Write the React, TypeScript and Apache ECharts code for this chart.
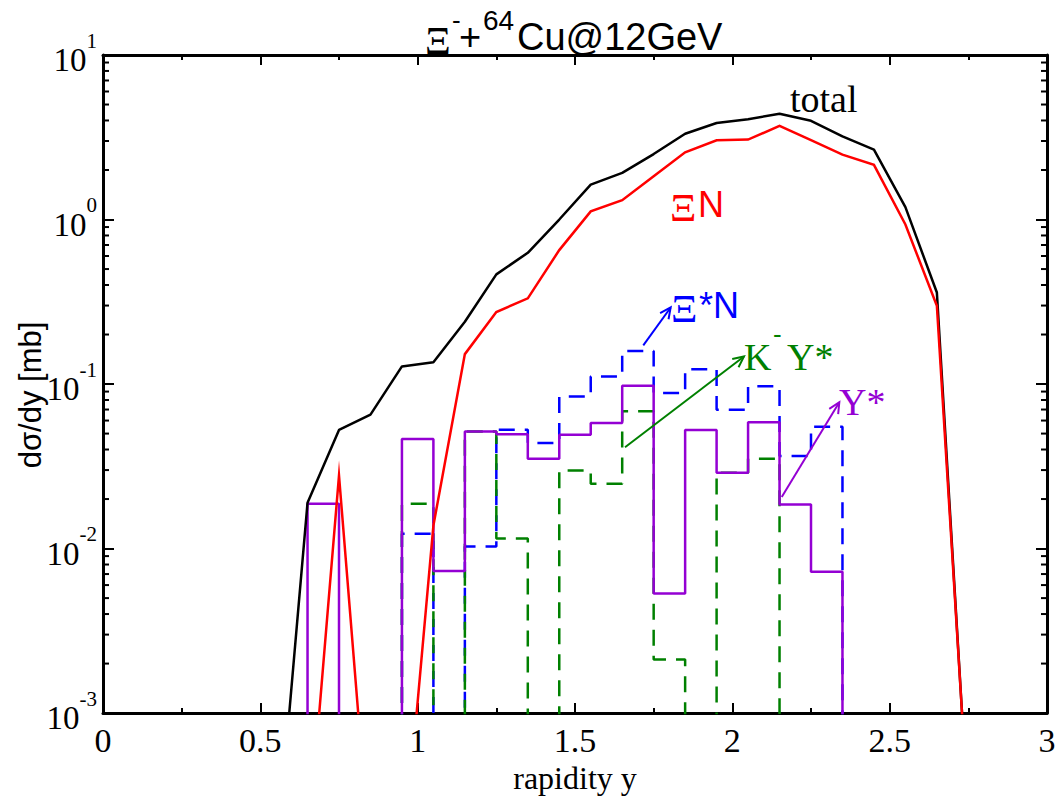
import React, { useEffect, useRef } from "react";
import * as echarts from "echarts";

// ---------- data ----------
// smooth curves, sampled at bin centres (values below 1e-3 are off-scale)
const rapidity = [0.55, 0.65, 0.75, 0.85, 0.95, 1.05, 1.15, 1.25, 1.35, 1.45, 1.55, 1.65, 1.75, 1.85, 1.95, 2.05, 2.15, 2.25, 2.35, 2.45, 2.55, 2.65, 2.75];
const totalValues = [1.2e-4, 0.019, 0.0526, 0.0652, 0.128, 0.1355, 0.239, 0.464, 0.628, 1.0, 1.63, 1.92, 2.5, 3.32, 3.86, 4.07, 4.39, 3.98, 3.2, 2.66, 1.19, 0.36, 2.3e-4];
const xiNValues = [1e-5, 1.4e-4, 0.0278, 1.2e-4, 1.0e-4, 0.0138, 0.152, 0.274, 0.332, 0.652, 1.12, 1.31, 1.83, 2.56, 3.03, 3.06, 3.71, 3.04, 2.48, 2.15, 0.933, 0.299, 2.4e-4];

// histograms (bin centres, width 0.1); null = below 1e-3
const binCenters = [0.7, 0.8, 0.9, 1.0, 1.1, 1.2, 1.3, 1.4, 1.5, 1.6, 1.7, 1.8, 1.9, 2.0, 2.1, 2.2, 2.3];
const binWidth = 0.1;
const xiStarNValues = [null, null, null, 0.0123, null, 0.0103, 0.0528, 0.0438, 0.0841, 0.111, 0.159, 0.0881, 0.123, 0.0698, 0.0969, 0.0365, 0.0551];
const kYStarValues = [null, null, null, 0.0187, null, 0.0514, 0.0115, null, 0.0298, 0.0248, 0.0683, 0.00212, null, 0.0289, 0.0351, null, null];
const yStarValues = [0.0187, null, null, 0.0464, 0.0073, 0.0514, 0.0495, 0.0351, 0.0491, 0.058, 0.0977, 0.00534, 0.0526, 0.0289, 0.0586, 0.0185, 0.00723];

// annotation arrows [x1, y1, x2, y2] in data units
const arrowXiStarN = [1.717, 0.172, 1.804, 0.292];
const arrowKYStar = [1.659, 0.0413, 2.037, 0.147];
const arrowYStar = [2.157, 0.0206, 2.34, 0.0775];

const xTickInterval = 0.5;
const yMin = 1e-3;
const yMax = 10;

// ---------- helpers ----------
const FLOOR = 1e-6;
const SERIF = '"Liberation Serif", "Times New Roman", serif';
const SANS = '"Liberation Sans", Arial, sans-serif';

function stepPoints(centers: number[], values: (number | null)[], width: number) {
  const pts: number[][] = [];
  centers.forEach((c, i) => {
    const v = values[i] == null ? FLOOR : (values[i] as number);
    const a = +(c - width / 2).toFixed(4);
    const b = +(c + width / 2).toFixed(4);
    if (i === 0) pts.push([a, FLOOR]);
    pts.push([a, v], [b, v]);
    if (i === centers.length - 1) pts.push([b, FLOOR]);
  });
  return pts;
}

function arrowSeries(arrow: number[], color: string) {
  return {
    type: "custom",
    silent: true,
    clip: false,
    z: 5,
    encode: { x: [0, 2], y: [1, 3] },
    data: [arrow],
    renderItem: (_p: any, api: any) => {
      const p1 = api.coord([api.value(0), api.value(1)]);
      const p2 = api.coord([api.value(2), api.value(3)]);
      const ang = Math.atan2(p2[1] - p1[1], p2[0] - p1[0]);
      const L = 12;
      const A = Math.PI / 7;
      const h1 = [p2[0] - L * Math.cos(ang - A), p2[1] - L * Math.sin(ang - A)];
      const h2 = [p2[0] - L * Math.cos(ang + A), p2[1] - L * Math.sin(ang + A)];
      return {
        type: "group",
        children: [
          { type: "line", shape: { x1: p1[0], y1: p1[1], x2: p2[0], y2: p2[1] }, style: { stroke: color, lineWidth: 2 } },
          { type: "polyline", shape: { points: [h1, p2, h2] }, style: { stroke: color, lineWidth: 2, fill: null } },
        ],
      };
    },
  };
}

function txt(text: string, x: number, baseline: number, size: number, family: string, color: string) {
  return {
    type: "text",
    x,
    y: baseline - 0.34 * size,
    silent: true,
    z: 10,
    style: {
      text,
      fill: color,
      font: `${size}px ${family}`,
      textAlign: "left",
      textVerticalAlign: "middle",
      align: "left",
      verticalAlign: "middle",
    },
  };
}

export default function App() {
  const ref = useRef<HTMLDivElement>(null);

  useEffect(() => {
    document.body.style.margin = "0";
    if (!ref.current) return;
    const chart = echarts.init(ref.current, null, { renderer: "svg" });

    const minorTicks: number[][] = [];
    for (let e = -3; e < 1; e++) {
      for (let m = 2; m <= 9; m++) minorTicks.push([0, m * Math.pow(10, e)]);
    }

    const axisLineStyle = { color: "#000", width: 3 };

    const option: any = {
      animation: false,
      backgroundColor: "#fff",
      grid: { left: 103, right: 13, top: 55, bottom: 84, containLabel: false },
      xAxis: [
        {
          type: "value",
          min: 0,
          max: 3,
          interval: xTickInterval,
          position: "bottom",
          axisLine: { show: true, onZero: false, lineStyle: axisLineStyle },
          axisTick: { show: true, inside: true, length: 10, lineStyle: { color: "#000", width: 2 } },
          minorTick: { show: true, splitNumber: 2, length: 5, lineStyle: { color: "#000", width: 2 } },
          splitLine: { show: false },
          axisLabel: { color: "#000", fontFamily: SERIF, fontSize: 34, margin: 10 },
          name: "rapidity y",
          nameLocation: "middle",
          nameGap: 43,
          nameTextStyle: { color: "#000", fontFamily: SERIF, fontSize: 32 },
        },
        {
          type: "value",
          min: 0,
          max: 3,
          interval: xTickInterval,
          position: "top",
          axisLine: { show: true, onZero: false, lineStyle: axisLineStyle },
          axisTick: { show: true, inside: true, length: 10, lineStyle: { color: "#000", width: 2 } },
          minorTick: { show: true, splitNumber: 2, length: 5, lineStyle: { color: "#000", width: 2 } },
          splitLine: { show: false },
          axisLabel: { show: false },
        },
      ],
      yAxis: [
        {
          type: "log",
          logBase: 10,
          min: yMin,
          max: yMax,
          position: "left",
          axisLine: { show: true, onZero: false, lineStyle: axisLineStyle },
          axisTick: { show: true, inside: true, length: 11, lineStyle: { color: "#000", width: 2 } },
          splitLine: { show: false },
          axisLabel: {
            margin: 6,
            formatter: (v: number) => `{b|10}{s|${Math.round(Math.log10(v))}}`,
            rich: {
              b: { fontFamily: SERIF, fontSize: 33, color: "#000", lineHeight: 58, padding: [10, 0, 0, 0] },
              s: { fontFamily: SERIF, fontSize: 21, color: "#000", verticalAlign: "top", padding: [4, 0, 0, 0] },
            },
          },
        },
        {
          type: "log",
          logBase: 10,
          min: yMin,
          max: yMax,
          position: "right",
          axisLine: { show: true, onZero: false, lineStyle: axisLineStyle },
          axisTick: { show: true, inside: true, length: 11, lineStyle: { color: "#000", width: 2 } },
          splitLine: { show: false },
          axisLabel: { show: false },
        },
      ],
      series: [
        {
          name: "Ξ*N",
          type: "line",
          data: stepPoints(binCenters, xiStarNValues, binWidth),
          showSymbol: false,
          symbol: "none",
          lineStyle: { color: "#0000ff", width: 2.5, type: [16, 10] },
          z: 2,
        },
        {
          name: "K-Y*",
          type: "line",
          data: stepPoints(binCenters, kYStarValues, binWidth),
          showSymbol: false,
          symbol: "none",
          lineStyle: { color: "#008000", width: 2.5, type: [16, 10] },
          z: 3,
        },
        {
          name: "Y*",
          type: "line",
          data: stepPoints(binCenters, yStarValues, binWidth),
          showSymbol: false,
          symbol: "none",
          lineStyle: { color: "#9400d3", width: 2.5 },
          z: 4,
        },
        {
          name: "total",
          type: "line",
          data: rapidity.map((x, i) => [x, totalValues[i]]),
          showSymbol: false,
          symbol: "none",
          lineStyle: { color: "#000", width: 2.5 },
          z: 5,
        },
        {
          name: "ΞN",
          type: "line",
          data: rapidity.map((x, i) => [x, xiNValues[i]]),
          showSymbol: false,
          symbol: "none",
          lineStyle: { color: "#ff0000", width: 2.5, join: "miter", miterLimit: 20 },
          z: 6,
        },
        arrowSeries(arrowXiStarN, "#0000ff"),
        arrowSeries(arrowKYStar, "#008000"),
        arrowSeries(arrowYStar, "#9400d3"),
        {
          type: "custom",
          silent: true,
          clip: false,
          z: 7,
          encode: { x: 0, y: 1 },
          data: minorTicks,
          renderItem: (_p: any, api: any) => {
            const v = api.value(1);
            const l = api.coord([0, v]);
            const r = api.coord([3, v]);
            return {
              type: "group",
              children: [
                { type: "line", shape: { x1: l[0], y1: l[1], x2: l[0] + 6, y2: l[1] }, style: { stroke: "#000", lineWidth: 2 } },
                { type: "line", shape: { x1: r[0] - 6, y1: r[1], x2: r[0], y2: r[1] }, style: { stroke: "#000", lineWidth: 2 } },
              ],
            };
          },
        },
      ],
      graphic: [
        // title  Ξ⁻ + ⁶⁴Cu@12GeV
        txt("Ξ", 425, 54, 40, SERIF, "#000"),
        txt("-", 452, 29, 26, SANS, "#000"),
        txt("+", 459, 50, 38, SANS, "#000"),
        txt("64", 483, 30, 28, SANS, "#000"),
        txt("Cu@12GeV", 517, 50, 38, SANS, "#000"),
        // y axis name
        {
          type: "text",
          x: 30,
          y: 395,
          rotation: Math.PI / 2,
          silent: true,
          style: {
            text: "dσ/dy [mb]",
            fill: "#000",
            font: `31px ${SANS}`,
            textAlign: "center",
            textVerticalAlign: "middle",
            align: "center",
            verticalAlign: "middle",
          },
        },
        // curve labels
        txt("total", 790, 112, 38, SERIF, "#000"),
        txt("Ξ", 670, 221, 41, SERIF, "#ff0000"),
        txt("N", 698, 217, 36, SANS, "#ff0000"),
        txt("Ξ", 671, 322, 41, SERIF, "#0000ff"),
        txt("*N", 699, 318, 36, SANS, "#0000ff"),
        txt("K", 744, 370, 38, SERIF, "#008000"),
        txt("-", 773, 343, 26, SANS, "#008000"),
        txt("Y*", 787, 370, 38, SERIF, "#008000"),
        txt("Y*", 839, 415, 38, SERIF, "#9400d3"),
      ],
    };

    chart.setOption(option);
    return () => chart.dispose();
  }, []);

  return <div ref={ref} style={{ width: 1060, height: 799, overflow: "hidden" }} />;
}
